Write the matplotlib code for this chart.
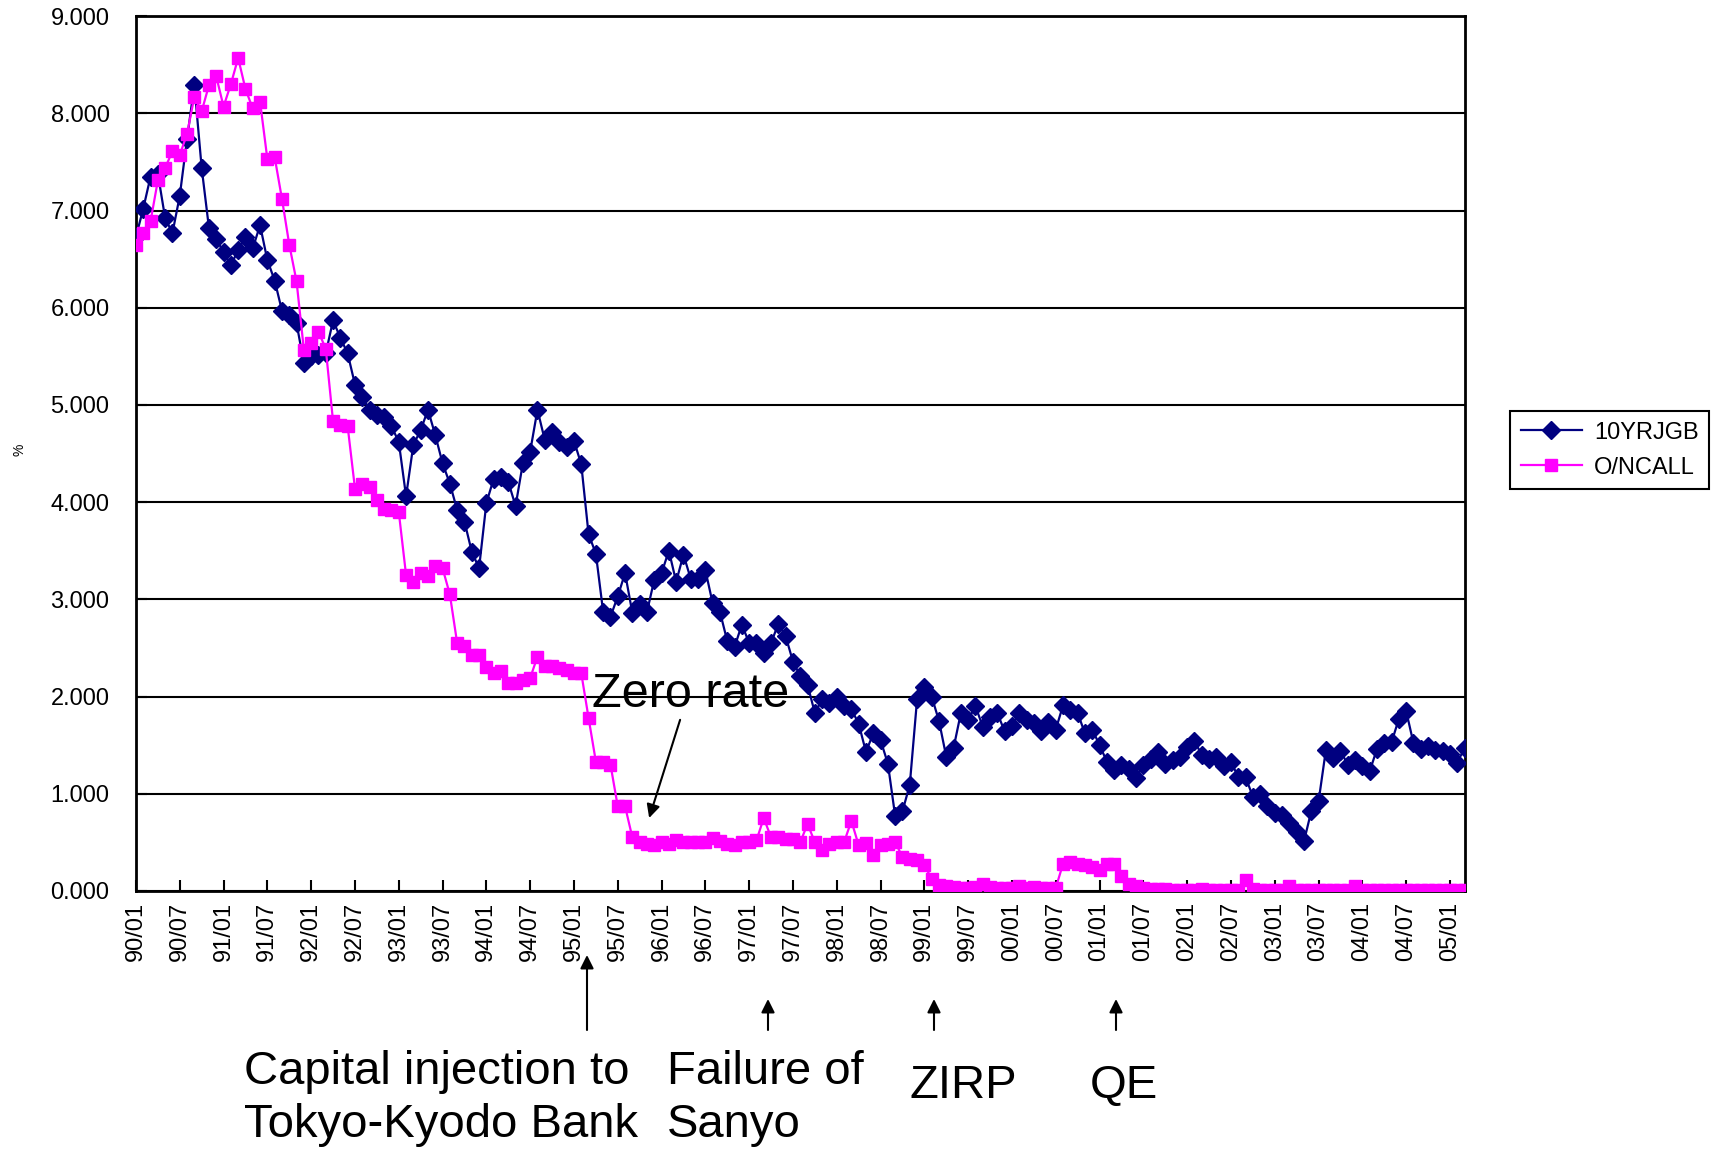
import matplotlib
matplotlib.use('Agg')
import matplotlib.pyplot as plt
from matplotlib.ticker import FormatStrFormatter

plt.rcParams['font.family'] = ['Liberation Sans', 'DejaVu Sans']

# monthly data, 90/01 .. 05/03
jgb_10y = [
    6.73, 7.02, 7.35, 7.38, 6.92, 6.77, 7.15, 7.74, 8.29, 7.44,
    6.82, 6.71, 6.57, 6.44, 6.59, 6.73, 6.61, 6.85, 6.49, 6.28,
    5.97, 5.93, 5.84, 5.43, 5.50, 5.51, 5.53, 5.87, 5.69, 5.53,
    5.21, 5.08, 4.95, 4.90, 4.88, 4.78, 4.62, 4.06, 4.59, 4.74,
    4.95, 4.69, 4.40, 4.19, 3.92, 3.80, 3.49, 3.32, 3.99, 4.24,
    4.26, 4.21, 3.96, 4.40, 4.52, 4.95, 4.64, 4.72, 4.62, 4.57,
    4.63, 4.39, 3.67, 3.47, 2.87, 2.82, 3.03, 3.27, 2.86, 2.95,
    2.87, 3.20, 3.27, 3.50, 3.18, 3.46, 3.21, 3.21, 3.30, 2.96,
    2.87, 2.57, 2.51, 2.74, 2.55, 2.55, 2.45, 2.55, 2.75, 2.62,
    2.36, 2.21, 2.12, 1.83, 1.97, 1.93, 2.00, 1.90, 1.87, 1.72,
    1.43, 1.62, 1.55, 1.31, 0.77, 0.82, 1.09, 1.97, 2.10, 2.00,
    1.75, 1.38, 1.47, 1.83, 1.76, 1.90, 1.69, 1.79, 1.83, 1.64,
    1.70, 1.83, 1.76, 1.73, 1.64, 1.74, 1.66, 1.91, 1.86, 1.83,
    1.62, 1.66, 1.50, 1.33, 1.24, 1.30, 1.25, 1.16, 1.30, 1.36,
    1.43, 1.31, 1.35, 1.38, 1.48, 1.54, 1.40, 1.36, 1.38, 1.28,
    1.33, 1.17, 1.17, 0.97, 1.00, 0.87, 0.80, 0.78, 0.70, 0.61,
    0.51, 0.82, 0.92, 1.45, 1.37, 1.44, 1.30, 1.35, 1.28, 1.23,
    1.46, 1.52, 1.53, 1.77, 1.85, 1.52, 1.46, 1.49, 1.45, 1.44,
    1.41, 1.32, 1.47,
]

on_call = [
    6.65, 6.77, 6.89, 7.31, 7.44, 7.61, 7.57, 7.79, 8.17, 8.02,
    8.29, 8.38, 8.07, 8.30, 8.57, 8.25, 8.05, 8.12, 7.53, 7.55,
    7.12, 6.65, 6.27, 5.57, 5.64, 5.75, 5.58, 4.83, 4.79, 4.78,
    4.14, 4.19, 4.16, 4.02, 3.93, 3.92, 3.90, 3.25, 3.18, 3.27,
    3.24, 3.34, 3.32, 3.05, 2.55, 2.52, 2.43, 2.43, 2.30, 2.24,
    2.26, 2.14, 2.14, 2.17, 2.19, 2.41, 2.31, 2.31, 2.29, 2.27,
    2.24, 2.24, 1.78, 1.33, 1.33, 1.30, 0.87, 0.87, 0.55, 0.50,
    0.48, 0.47, 0.50, 0.48, 0.52, 0.50, 0.50, 0.50, 0.50, 0.54,
    0.51, 0.48, 0.47, 0.50, 0.50, 0.52, 0.75, 0.55, 0.55, 0.53,
    0.53, 0.50, 0.69, 0.50, 0.42, 0.48, 0.50, 0.50, 0.72, 0.47,
    0.49, 0.37, 0.47, 0.48, 0.50, 0.35, 0.33, 0.32, 0.27, 0.12,
    0.06, 0.05, 0.04, 0.03, 0.03, 0.04, 0.07, 0.04, 0.03, 0.03,
    0.03, 0.05, 0.03, 0.04, 0.03, 0.03, 0.03, 0.28, 0.30, 0.28,
    0.27, 0.25, 0.22, 0.28, 0.28, 0.15, 0.07, 0.05, 0.03, 0.02,
    0.02, 0.02, 0.01, 0.01, 0.01, 0.01, 0.02, 0.01, 0.01, 0.01,
    0.01, 0.01, 0.11, 0.02, 0.01, 0.01, 0.01, 0.01, 0.05, 0.01,
    0.01, 0.01, 0.01, 0.01, 0.01, 0.01, 0.01, 0.05, 0.01, 0.01,
    0.01, 0.01, 0.01, 0.01, 0.01, 0.01, 0.01, 0.01, 0.01, 0.01,
    0.01, 0.01, 0.01,
]

tick_labels = ["90/01", "90/07", "91/01", "91/07", "92/01", "92/07", "93/01", "93/07",
               "94/01", "94/07", "95/01", "95/07", "96/01", "96/07", "97/01", "97/07",
               "98/01", "98/07", "99/01", "99/07", "00/01", "00/07", "01/01", "01/07",
               "02/01", "02/07", "03/01", "03/07", "04/01", "04/07", "05/01"]

x = list(range(len(jgb_10y)))

fig = plt.figure(figsize=(17.21, 11.54), dpi=100)
ax = fig.add_axes([0.079, 0.228, 0.772, 0.758])

ax.plot(x, jgb_10y, color='#000080', lw=1.6, marker='D', markersize=9, label='10YRJGB', zorder=3)
ax.plot(x, on_call, color='#FF00FF', lw=1.6, marker='s', markersize=9, label='O/NCALL', zorder=4)

ax.set_xlim(0, len(x) - 1)
ax.set_ylim(0, 9)
ax.set_yticks(range(10))
ax.yaxis.set_major_formatter(FormatStrFormatter('%.3f'))
ax.set_xticks(range(0, 6 * len(tick_labels), 6))
ax.set_xticklabels(tick_labels, rotation=90)
ax.tick_params(axis='both', direction='in', length=8, width=1.5, labelsize=17)
ax.tick_params(axis='y', pad=19)
ax.tick_params(axis='x', pad=8)
ax.yaxis.grid(True, color='black', lw=1.5)
ax.set_axisbelow(True)
for s in ax.spines.values():
    s.set_linewidth(2)

W, H = 1721, 1154
fig.text(20 / W, 1 - 450 / H, '%', fontsize=10, rotation=90, ha='center', va='center')

leg = ax.legend(loc='upper left', bbox_to_anchor=(1510 / W, 1 - 411 / H), bbox_transform=fig.transFigure,
                fontsize=17, fancybox=False, edgecolor='black', framealpha=1, borderaxespad=0,
                handlelength=2.6, handletextpad=0.5, borderpad=0.45, labelspacing=0.55)
leg.get_frame().set_linewidth(1.5)

# "Zero rate" note with arrow
ax.annotate('Zero rate', xy=(70.3, 0.75), xytext=(62.5, 2.02), fontsize=35, va='center',
            arrowprops=dict(arrowstyle='-|>', color='black', lw=1.5, mutation_scale=20,
                            shrinkA=0, shrinkB=0, relpos=(0.45, 0.0)))

# event arrows below the axis
events = [(587, 955), (768, 999), (934, 999), (1116, 999)]
for ex, tip in events:
    fig.add_artist(matplotlib.patches.FancyArrowPatch(
        (ex / W, 1 - 1030 / H), (ex / W, 1 - tip / H), transform=fig.transFigure,
        arrowstyle='-|>', color='black', lw=1.5, mutation_scale=20, shrinkA=0, shrinkB=0))

fig.text(244 / W, 1 - 1050 / H, 'Capital injection to\nTokyo-Kyodo Bank', fontsize=34,
         va='top', linespacing=1.27)
fig.text(667 / W, 1 - 1050 / H, 'Failure of\nSanyo', fontsize=34, va='top', linespacing=1.27)
fig.text(909 / W, 1 - 1064 / H, 'ZIRP', fontsize=34, va='top')
fig.text(1090 / W, 1 - 1064 / H, 'QE', fontsize=34, va='top')

fig.savefig('out.png', dpi=100)
